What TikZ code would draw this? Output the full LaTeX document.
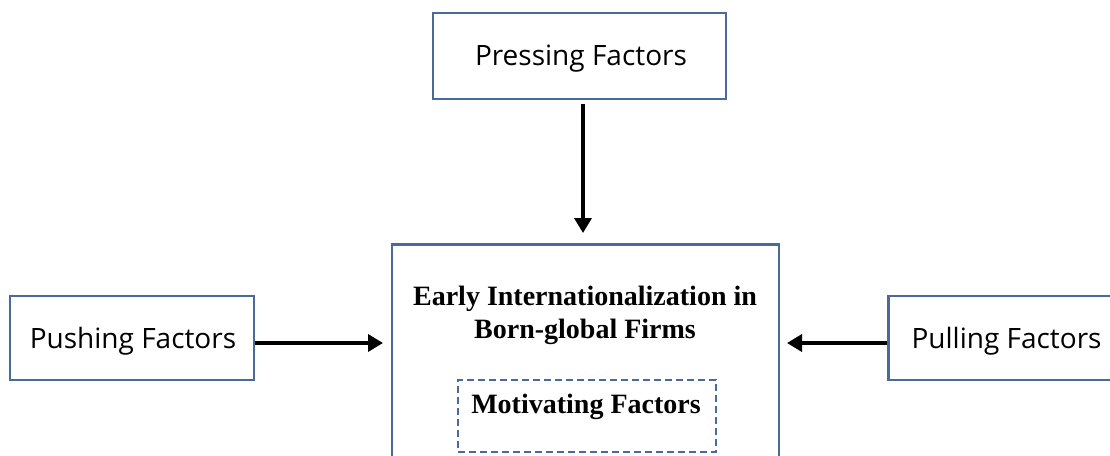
\documentclass[tikz,border=0pt]{standalone}
\usepackage{fontspec}
\setmainfont{Liberation Serif}
\newfontfamily\labelfont{Open Sans}
\usetikzlibrary{arrows.meta}
\definecolor{boxblue}{HTML}{4A6A9C}
\begin{document}
\begin{tikzpicture}[x=1pt,y=-1pt,
  fbox/.style={draw=boxblue,line width=2.8pt,fill=white,inner sep=0pt},
  flabel/.style={font=\labelfont\fontsize{28}{32}\selectfont},
  conn/.style={line width=3.6pt,-{Triangle[length=15pt,width=17pt]}}]
\useasboundingbox (0,0) rectangle (1110,455);
\clip (0,0) rectangle (1110,455);
\node[fbox,minimum width=293pt,minimum height=86pt] (press) at (579.5,56) {};
\node[flabel] (presst) at (581,59) {Pressing Factors};
\node[fbox,minimum width=387pt,minimum height=240pt,anchor=north] (center) at (585.5,243) {};
\node[font=\bfseries\fontsize{28}{33}\selectfont,align=center] (centert) at (585,315) {Early Internationalization in\\Born-global Firms};
\node[draw=boxblue,line width=2.6pt,dash pattern=on 7pt off 4pt,minimum width=258pt,minimum height=72pt] (motiv) at (587,416) {};
\node[font=\bfseries\fontsize{28}{33}\selectfont] (motivt) at (586,407) {Motivating Factors};
\node[fbox,minimum width=244pt,minimum height=84pt] (push) at (132,338) {};
\node[flabel] (pusht) at (133,341) {Pushing Factors};
\node[fbox,minimum width=240pt,minimum height=84pt,anchor=west] (pull) at (887,338) {};
\node[flabel,anchor=west] (pullt) at (908,341) {Pulling Factors};
\coordinate (pressend) at (583,233);
\coordinate (pushend) at (383,343);
\coordinate (pullend) at (787,343);
\draw[conn] (583,104) -- (pressend);
\draw[conn] (push.east |- pushend) -- (pushend);
\draw[conn] (pull.west |- pullend) -- (pullend);
\end{tikzpicture}
\end{document}
